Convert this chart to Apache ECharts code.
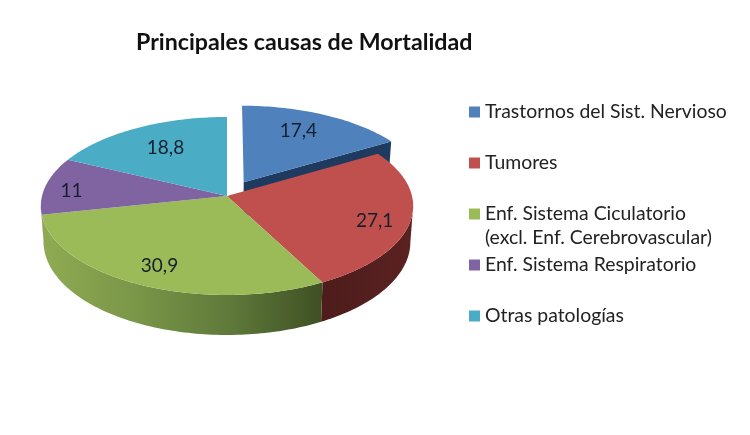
<!DOCTYPE html>
<html>
<head>
<meta charset="utf-8">
<style>
  html, body { margin: 0; padding: 0; background: #fff; }
  #chart { width: 750px; height: 435px; }
</style>
</head>
<body>
<div id="chart"></div>
<script src="https://cdn.jsdelivr.net/npm/echarts@6/dist/echarts.min.js"></script>
<script>
const categories = [
  'Trastornos del Sist. Nervioso',
  'Tumores',
  'Enf. Sistema Ciculatorio\n(excl. Enf. Cerebrovascular)',
  'Enf. Sistema Respiratorio',
  'Otras patologías'
]
const values = [17.4, 27.1, 30.9, 11, 18.8]

const colors = ['#4f81bd', '#c0504d', '#9bbb59', '#8064a2', '#4bacc6']
// left to right shading of the side wall
const wallColors = [
  ['#1f3a5f', '#1f3a5f'],
  ['#4d1c1b', '#5a2221'],
  ['#8fab52', '#7a9648', '#5f7a3a', '#3f5024'],
  ['#4c3c61', '#4c3c61'],
  ['#2d6776', '#2d6776']
]
// how far out each value label sits, as a share of the radius, then a nudge in px
const labelRadius = [0.72, 0.82, 0.79, 0.85, 0.71]
const labelNudge = [[-5, -2], [-2, 5], [0, 2], [-1, 4], [4, 1]]
const explode = [0.185, 0, 0, 0, 0]

// tilted disc: a circle in perspective
const cx = 227
const cy = 196
const rx = 185
const ry = 87.9
const persp = 0.112
const depth = 35.5
const wallShrink = 0.985
const wallFrom = Math.acos(-persp)
const wallTo = 2 * Math.PI - wallFrom

const total = values.reduce((a, b) => a + b, 0)

const sliceAngles = i => {
  const before = values.slice(0, i).reduce((a, b) => a + b, 0)
  return [before / total * 2 * Math.PI, (before + values[i]) / total * 2 * Math.PI]
}

const project = (u, v, lowered) => {
  const s = 1 / (1 + persp * v)
  const x = rx * u * s
  const y = -ry * v * s
  if (lowered) return [cx + x * wallShrink, cy + y + depth * s]
  return [cx + x, cy + y]
}

const rimPoints = (from, to, i, lowered) => {
  const mid = (sliceAngles(i)[0] + sliceAngles(i)[1]) / 2
  const ou = explode[i] * Math.sin(mid)
  const ov = explode[i] * Math.cos(mid)
  const steps = Math.max(2, Math.ceil((to - from) / 0.02))
  const pts = []
  for (let n = 0; n <= steps; n++) {
    const a = from + (to - from) * n / steps
    pts.push(project(ou + Math.sin(a), ov + Math.cos(a), lowered))
  }
  return pts
}

const apexPoint = (i, lowered) => {
  const mid = (sliceAngles(i)[0] + sliceAngles(i)[1]) / 2
  return project(explode[i] * Math.sin(mid), explode[i] * Math.cos(mid), lowered)
}

const wallFill = i => new echarts.graphic.LinearGradient(
  0, 0, 1, 0,
  wallColors[i].map((color, n) => ({ offset: n / (wallColors[i].length - 1), color }))
)

const renderSlice = i => (params, api) => {
  const [start, end] = sliceAngles(i)
  const children = []

  // cut face, only seen on the pulled out slice
  if (explode[i] > 0) {
    const rimTop = rimPoints(end, end, i, false)[0]
    const rimLow = rimPoints(end, end, i, true)[0]
    children.push({
      type: 'polygon',
      shape: { points: [apexPoint(i, false), rimTop, rimLow, apexPoint(i, true)] },
      style: { fill: wallColors[i][0] }
    })
  }

  // outer wall, front half of the disc only
  const from = Math.max(start, wallFrom)
  const to = Math.min(end, wallTo)
  if (to > from) {
    children.push({
      type: 'polygon',
      shape: {
        points: rimPoints(from, to, i, false).concat(rimPoints(from, to, i, true).reverse())
      },
      style: { fill: wallFill(i) }
    })
  }

  // top face
  children.push({
    type: 'polygon',
    shape: { points: [apexPoint(i, false)].concat(rimPoints(start, end, i, false)) },
    style: { fill: colors[i] }
  })

  // value label
  const mid = (start + end) / 2
  const lu = (explode[i] + labelRadius[i]) * Math.sin(mid)
  const lv = (explode[i] + labelRadius[i]) * Math.cos(mid)
  const pos = project(lu, lv, false)
  children.push({
    type: 'text',
    x: pos[0] + labelNudge[i][0],
    y: pos[1] + labelNudge[i][1],
    style: {
      text: String(api.value(0)).replace('.', ','),
      fill: '#16202c',
      font: '19px Lato',
      textAlign: 'center',
      textVerticalAlign: 'middle'
    }
  })

  return { type: 'group', children }
}

const chart = echarts.init(document.getElementById('chart'), null, { renderer: 'canvas' })

chart.setOption({
  animation: false,
  backgroundColor: '#fff',
  title: {
    text: 'Principales causas de Mortalidad',
    left: 136,
    top: 31,
    padding: 0,
    textStyle: { fontFamily: 'Lato', fontSize: 23.2, fontWeight: 'bold', color: '#111' }
  },
  legend: categories.map((name, i) => {
    const twoLines = name.includes('\n')
    return {
      data: [name],
      left: 469,
      // the blank line in the formatter below makes this item's box 48px taller
      top: 100 + i * 51 - (twoLines ? 24 : 0),
      padding: 0,
      icon: 'rect',
      itemWidth: 11,
      itemHeight: 11,
      selectedMode: false,
      // legend centres the text on the square, a leading blank line keeps the
      // square level with the first line of a two line name
      formatter: n => (twoLines ? '\n' + n : n),
      textStyle: { fontFamily: 'Lato', fontSize: 19.4, lineHeight: 24, color: '#222' }
    }
  }),
  series: categories.map((name, i) => ({
    type: 'custom',
    name,
    coordinateSystem: 'none',
    itemStyle: { color: colors[i] },
    data: [[values[i]]],
    renderItem: renderSlice(i),
    silent: true
  }))
})
</script>
</body>
</html>
